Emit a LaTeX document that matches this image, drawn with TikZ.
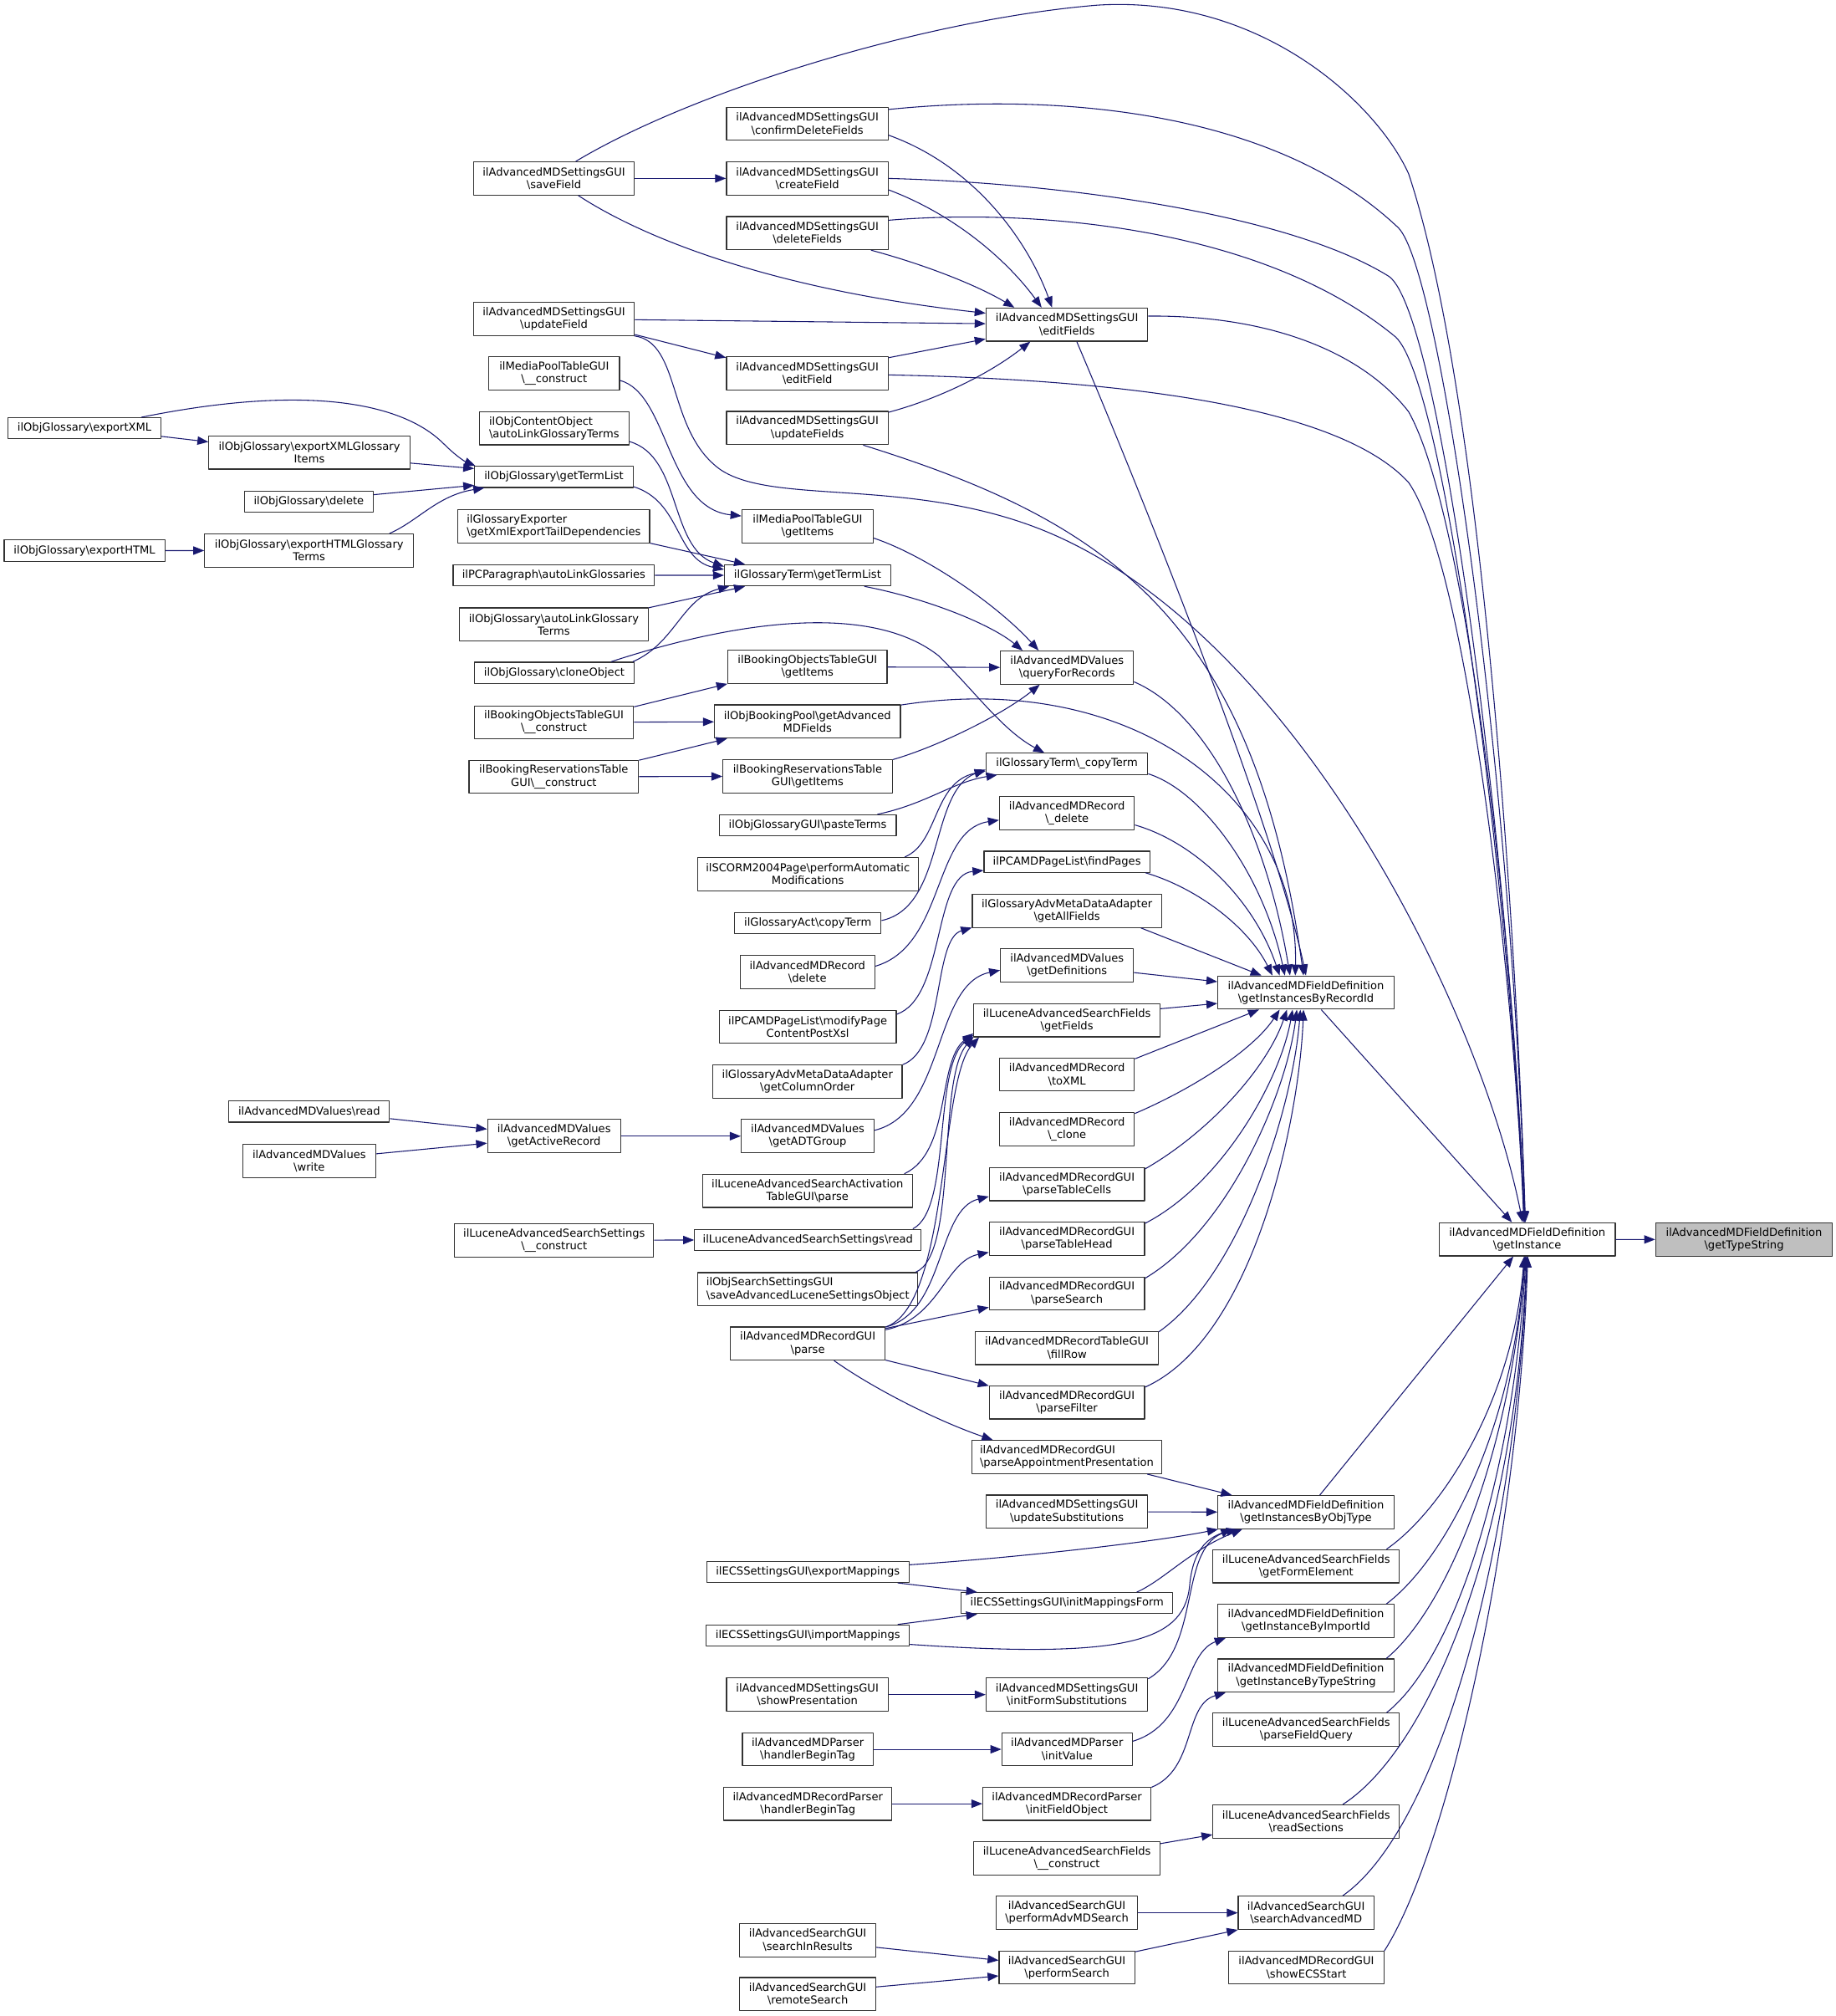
\documentclass[tikz,border=0pt]{standalone}
\usepackage{fontspec}
\setmainfont{DejaVu Sans}
\usetikzlibrary{arrows.meta}
\definecolor{edgeblue}{HTML}{191970}
\definecolor{boxline}{HTML}{333333}
\definecolor{rootfill}{HTML}{BFBFBF}
\newcommand{\bsl}{\textbackslash}
\begin{document}
\begin{tikzpicture}[x=1pt,y=-1pt,line join=round,
	fn/.style={draw=boxline,fill=white,line width=0.75pt,inner sep=0pt,minimum height=25.8pt,align=center,font=\fontsize{8.5}{9.9}\selectfont},
	fn1/.style={fn,minimum height=16.4pt},
	fnl/.style={fn,align=left},
	root/.style={fn,fill=rootfill},
	e/.style={draw=edgeblue,line width=0.7pt,-{Triangle[length=8.5pt,width=6.5pt]}}]
	\useasboundingbox (0,0) rectangle (1427,1567);
	% root and the two definition columns
	\node[root,minimum width=137.5pt] (T) at (1355.8,963.5) {ilAdvancedMDFieldDefinition\\\bsl getTypeString};
	\node[fn,minimum width=137pt] (GI) at (1187.2,963.3) {ilAdvancedMDFieldDefinition\\\bsl getInstance};
	\node[fn,minimum width=137pt] (RID) at (1015.2,771.5) {ilAdvancedMDFieldDefinition\\\bsl getInstancesByRecordId};
	\node[fn,minimum width=137pt] (OT) at (1015.2,1175.4) {ilAdvancedMDFieldDefinition\\\bsl getInstancesByObjType};
	\node[fn,minimum width=145pt] (GFE) at (1015.4,1217.4) {ilLuceneAdvancedSearchFields\\\bsl getFormElement};
	\node[fn,minimum width=137pt] (GIID) at (1015.2,1260) {ilAdvancedMDFieldDefinition\\\bsl getInstanceByImportId};
	\node[fn,minimum width=137pt] (GITS) at (1015.2,1302.4) {ilAdvancedMDFieldDefinition\\\bsl getInstanceByTypeString};
	\node[fn,minimum width=145pt] (PFQ) at (1015.4,1344.5) {ilLuceneAdvancedSearchFields\\\bsl parseFieldQuery};
	\node[fn,minimum width=145pt] (RS) at (1015.4,1415.8) {ilLuceneAdvancedSearchFields\\\bsl readSections};
	\node[fn,minimum width=105.5pt] (SAMD) at (1015.3,1486.8) {ilAdvancedSearchGUI\\\bsl searchAdvancedMD};
	\node[fn,minimum width=120.5pt] (ECS) at (1015.5,1529.3) {ilAdvancedMDRecordGUI\\\bsl showECSStart};
	% third column
	\node[fn,minimum width=125.7pt] (EF) at (829.4,252.3) {ilAdvancedMDSettingsGUI\\\bsl editFields};
	\node[fn,minimum width=103.4pt] (QR) at (829.5,518.9) {ilAdvancedMDValues\\\bsl queryForRecords};
	\node[fn1,minimum width=125.7pt] (CT) at (829.4,593.7) {ilGlossaryTerm\bsl\_copyTerm};
	\node[fn,minimum width=104.9pt] (RDEL) at (829.4,631.9) {ilAdvancedMDRecord\\\bsl\_delete};
	\node[fn1,minimum width=128.9pt] (FP) at (829.4,669.8) {ilPCAMDPageList\bsl findPages};
	\node[fn,minimum width=147.1pt] (GAF) at (829.4,708) {ilGlossaryAdvMetaDataAdapter\\\bsl getAllFields};
	\node[fn,minimum width=103.4pt] (GD) at (829.5,750.5) {ilAdvancedMDValues\\\bsl getDefinitions};
	\node[fn,minimum width=144.7pt] (GF) at (829.4,793) {ilLuceneAdvancedSearchFields\\\bsl getFields};
	\node[fn,minimum width=104.9pt] (TX) at (829.4,835.2) {ilAdvancedMDRecord\\\bsl toXML};
	\node[fn,minimum width=104.9pt] (CL) at (829.4,877.7) {ilAdvancedMDRecord\\\bsl\_clone};
	\node[fn,minimum width=120.7pt] (PTC) at (829.4,920.4) {ilAdvancedMDRecordGUI\\\bsl parseTableCells};
	\node[fn,minimum width=120.7pt] (PTH) at (829.4,962.7) {ilAdvancedMDRecordGUI\\\bsl parseTableHead};
	\node[fn,minimum width=120.7pt] (PS) at (829.4,1005.4) {ilAdvancedMDRecordGUI\\\bsl parseSearch};
	\node[fn,minimum width=142.1pt] (FR) at (829.4,1047.8) {ilAdvancedMDRecordTableGUI\\\bsl fillRow};
	\node[fn,minimum width=120.7pt] (PF) at (829.4,1090) {ilAdvancedMDRecordGUI\\\bsl parseFilter};
	\node[fnl,minimum width=147.8pt] (PAP) at (829.3,1132.5) {ilAdvancedMDRecordGUI\\\bsl parseAppointmentPresentation};
	\node[fn,minimum width=125.7pt] (US) at (829.4,1175) {ilAdvancedMDSettingsGUI\\\bsl updateSubstitutions};
	\node[fn1,minimum width=164.4pt] (IMF) at (829.5,1246.1) {ilECSSettingsGUI\bsl initMappingsForm};
	\node[fn,minimum width=125.7pt] (IFS) at (829.4,1317.2) {ilAdvancedMDSettingsGUI\\\bsl initFormSubstitutions};
	\node[fn,minimum width=101.4pt] (IV) at (829.5,1359.7) {ilAdvancedMDParser\\\bsl initValue};
	\node[fn,minimum width=130.7pt] (IFO) at (829.4,1402) {ilAdvancedMDRecordParser\\\bsl initFieldObject};
	\node[fn,minimum width=144.7pt] (LC) at (829.4,1444.5) {ilLuceneAdvancedSearchFields\\\bsl\_\_construct};
	\node[fn,minimum width=109.9pt] (PAS) at (829.4,1486.8) {ilAdvancedSearchGUI\\\bsl performAdvMDSearch};
	\node[fn,minimum width=105.5pt] (PSR) at (829.4,1529.3) {ilAdvancedSearchGUI\\\bsl performSearch};
	% second column
	\node[fn,minimum width=125.7pt] (CDF) at (627.6,96.2) {ilAdvancedMDSettingsGUI\\\bsl confirmDeleteFields};
	\node[fn,minimum width=125.7pt] (CF) at (627.6,138.7) {ilAdvancedMDSettingsGUI\\\bsl createField};
	\node[fn,minimum width=125.7pt] (DF) at (627.6,181.2) {ilAdvancedMDSettingsGUI\\\bsl deleteFields};
	\node[fn,minimum width=125.7pt] (EFd) at (627.6,290.3) {ilAdvancedMDSettingsGUI\\\bsl editField};
	\node[fn,minimum width=125.7pt] (UFs) at (627.6,332.7) {ilAdvancedMDSettingsGUI\\\bsl updateFields};
	\node[fn,minimum width=102.1pt] (MPI) at (627.8,409.2) {ilMediaPoolTableGUI\\\bsl getItems};
	\node[fn1,minimum width=129.2pt] (GTL) at (627.8,447.2) {ilGlossaryTerm\bsl getTermList};
	\node[fn,minimum width=123.8pt] (BOI) at (627.7,518.3) {ilBookingObjectsTableGUI\\\bsl getItems};
	\node[fn,minimum width=144.6pt] (BPF) at (627.7,560.8) {ilObjBookingPool\bsl getAdvanced\\MDFields};
	\node[fn,minimum width=131.7pt] (BRI) at (627.8,603.3) {ilBookingReservationsTable\\GUI\bsl getItems};
	\node[fn1,minimum width=137.7pt] (PT) at (627.9,641.5) {ilObjGlossaryGUI\bsl pasteTerms};
	\node[fn,minimum width=171.8pt] (SCO) at (628,679.4) {ilSCORM2004Page\bsl performAutomatic\\Modifications};
	\node[fn1,minimum width=113.8pt] (GAC) at (628,717.5) {ilGlossaryAct\bsl copyTerm};
	\node[fn,minimum width=104.9pt] (RD) at (627.7,755.6) {ilAdvancedMDRecord\\\bsl delete};
	\node[fn,minimum width=137.7pt] (MPX) at (627.9,798.1) {ilPCAMDPageList\bsl modifyPage\\ContentPostXsl};
	\node[fn,minimum width=147.2pt] (GCO) at (627.7,840.6) {ilGlossaryAdvMetaDataAdapter\\\bsl getColumnOrder};
	\node[fn,minimum width=103.3pt] (ADT) at (627.9,883.1) {ilAdvancedMDValues\\\bsl getADTGroup};
	\node[fn,minimum width=162.9pt] (LAT) at (627.7,925.6) {ilLuceneAdvancedSearchActivation\\TableGUI\bsl parse};
	\node[fn1,minimum width=176.1pt] (LSR) at (628,963.7) {ilLuceneAdvancedSearchSettings\bsl read};
	\node[fnl,minimum width=171.1pt] (OSS) at (628,1002.1) {ilObjSearchSettingsGUI\\\bsl saveAdvancedLuceneSettingsObject};
	\node[fn,minimum width=120.3pt] (PRS) at (627.9,1044.3) {ilAdvancedMDRecordGUI\\\bsl parse};
	\node[fn1,minimum width=157.2pt] (EXM) at (628,1221.8) {ilECSSettingsGUI\bsl exportMappings};
	\node[fn1,minimum width=157.8pt] (IMM) at (628,1271.2) {ilECSSettingsGUI\bsl importMappings};
	\node[fn,minimum width=125.7pt] (SP) at (627.6,1317.2) {ilAdvancedMDSettingsGUI\\\bsl showPresentation};
	\node[fn,minimum width=101.5pt] (PHB) at (627.9,1359.7) {ilAdvancedMDParser\\\bsl handlerBeginTag};
	\node[fn,minimum width=130.8pt] (RPH) at (628,1402) {ilAdvancedMDRecordParser\\\bsl handlerBeginTag};
	\node[fn,minimum width=105.9pt] (SIR) at (627.9,1508) {ilAdvancedSearchGUI\\\bsl searchInResults};
	\node[fn,minimum width=105.9pt] (RMS) at (627.9,1550) {ilAdvancedSearchGUI\\\bsl remoteSearch};
	% first column
	\node[fn,minimum width=125.1pt] (SF) at (430.6,138.7) {ilAdvancedMDSettingsGUI\\\bsl saveField};
	\node[fn,minimum width=125.1pt] (UF) at (430.6,247.8) {ilAdvancedMDSettingsGUI\\\bsl updateField};
	\node[fn,minimum width=101.5pt] (MPC) at (430.8,290.3) {ilMediaPoolTableGUI\\\bsl\_\_construct};
	\node[fnl,minimum width=116.5pt] (OCO) at (430.8,332.9) {ilObjContentObject\\\bsl autoLinkGlossaryTerms};
	\node[fn1,minimum width=123.2pt] (OGT) at (430.6,370.7) {ilObjGlossary\bsl getTermList};
	\node[fnl,minimum width=149pt] (GEX) at (430.5,409) {ilGlossaryExporter\\\bsl getXmlExportTailDependencies};
	\node[fn1,minimum width=156.4pt] (PCP) at (430.5,447.1) {ilPCParagraph\bsl autoLinkGlossaries};
	\node[fn,minimum width=147pt] (OGA) at (430.5,485.4) {ilObjGlossary\bsl autoLinkGlossary\\Terms};
	\node[fn1,minimum width=124.4pt] (OCL) at (430.9,522.9) {ilObjGlossary\bsl cloneObject};
	\node[fn,minimum width=123.8pt] (BOC) at (430.6,561.5) {ilBookingObjectsTableGUI\\\bsl\_\_construct};
	\node[fn,minimum width=131.8pt] (BRC) at (430.5,603.8) {ilBookingReservationsTable\\GUI\bsl\_\_construct};
	\node[fn,minimum width=103.4pt] (GAR) at (430.7,883.1) {ilAdvancedMDValues\\\bsl getActiveRecord};
	\node[fn,minimum width=154.6pt] (LSC) at (430.8,964) {ilLuceneAdvancedSearchSettings\\\bsl\_\_construct};
	% outer columns
	\node[fn,minimum width=156.3pt] (EXI) at (240.5,351.7) {ilObjGlossary\bsl exportXMLGlossary\\Items};
	\node[fn1,minimum width=100.2pt] (ODL) at (240.1,389.8) {ilObjGlossary\bsl delete};
	\node[fn,minimum width=162.3pt] (EHT) at (240.3,427.9) {ilObjGlossary\bsl exportHTMLGlossary\\Terms};
	\node[fn1,minimum width=124.8pt] (AVR) at (240.4,864) {ilAdvancedMDValues\bsl read};
	\node[fn,minimum width=103.4pt] (AVW) at (240.4,902.3) {ilAdvancedMDValues\\\bsl write};
	\node[fn1,minimum width=118.8pt] (EX) at (65.7,332.9) {ilObjGlossary\bsl exportXML};
	\node[fn1,minimum width=125pt] (EH) at (65.7,428) {ilObjGlossary\bsl exportHTML};
	% straight calls
	\foreach \a/\b in {GI/T,SF/CF,UF/EF,BOI/QR,RID/GI,OT/GI,US/OT,SP/IFS,PHB/IV,RPH/IFO,PAS/SAMD,GAR/ADT,LSC/LSR,BOC/BPF,BRC/BRI,PCP/GTL,EH/EHT}
	{
		\draw[e] (\a) -- (\b);
	}
	\foreach \a/\b in {GAF.-13/RID.159,GD.-6/RID.173,GF.7/RID.-173,TX.13/RID.-160,EFd.11/EF.-170,UF.-11/EFd.169,PRS.11/PS.-170,PRS.-12/PF.168,PAP.-12/OT.167,EXM.-7/IMF.173,IMM.7/IMF.-173,LC.9/RS.-172,PSR.13/SAMD.-166,SIR.-6/PSR.174,RMS.6/PSR.-173,AVR.-5/GAR.174,AVW.6/GAR.-174,BOC.11/BOI.-168,BRC.11/BPF.-168,GEX.-10/GTL.170,OGA.10/GTL.-170,EX.-6/EXI.174,EXI.-6/OGT.174,ODL.6/OGT.-174}
	{
		\draw[e] (\a) -- (\b);
	}
	% into getInstance from above
	\draw[e] (SF.38) .. controls (540,70) and (720,15) .. (853,4) .. controls (980,-4) and (1070,80) .. (1095,135) .. controls (1150,300) and (1178,700) .. (GI.96);
	\draw[e] (CDF.10) .. controls (820,72) and (990,85) .. (1087,177) .. controls (1120,210) and (1175,600) .. (GI.97);
	\draw[e] (CF.0) .. controls (820,142) and (1000,165) .. (1080,215) .. controls (1120,245) and (1172,650) .. (GI.98);
	\draw[e] (DF.9) .. controls (800,162) and (980,175) .. (1085,262) .. controls (1125,300) and (1174,700) .. (GI.99);
	\draw[e] (EF.6) .. controls (990,245) and (1060,275) .. (1095,320) .. controls (1140,400) and (1176,720) .. (GI.100);
	\draw[e] (EFd.-1) .. controls (870,295) and (1040,315) .. (1095,375) .. controls (1140,440) and (1177,760) .. (GI.101);
	\draw[e] (UF.-12) .. controls (530,266) and (518,335) .. (560,365) .. controls (600,392) and (700,372) .. (800,408) .. controls (1000,480) and (1150,780) .. (GI.105);
	% into getInstance from below
	\draw[e] (GFE.12) .. controls (1120,1175) and (1176,1090) .. (GI.-100);
	\draw[e] (GIID.12) .. controls (1120,1215) and (1175,1120) .. (GI.-98);
	\draw[e] (GITS.12) .. controls (1125,1250) and (1174,1130) .. (GI.-96);
	\draw[e] (PFQ.12) .. controls (1130,1290) and (1176,1150) .. (GI.-94);
	\draw[e] (RS.25) .. controls (1110,1360) and (1178,1200) .. (GI.-92);
	\draw[e] (SAMD.25) .. controls (1120,1420) and (1178,1200) .. (GI.-90);
	\draw[e] (ECS.12) .. controls (1125,1440) and (1180,1200) .. (GI.-88);
	% into getInstancesByRecordId
	\draw[e] (EF.-60) .. controls (890,390) and (990,640) .. (RID.90);
	\draw[e] (UFs.-17) .. controls (860,405) and (975,480) .. (RID.98);
	\draw[e] (BPF.10) .. controls (880,520) and (1010,620) .. (RID.122);
	\draw[e] (QR.-12) .. controls (940,555) and (985,650) .. (RID.133);
	\draw[e] (CT.-7) .. controls (935,615) and (982,680) .. (RID.141);
	\draw[e] (RDEL.-10) .. controls (930,655) and (975,700) .. (RID.147);
	\draw[e] (FP.-8) .. controls (930,690) and (970,720) .. (RID.153);
	\draw[e] (CL.13) .. controls (930,845) and (975,815) .. (RID.-147);
	\draw[e] (PTC.11) .. controls (940,880) and (985,830) .. (RID.-138);
	\draw[e] (PTH.11) .. controls (950,920) and (995,840) .. (RID.-128);
	\draw[e] (PS.11) .. controls (955,955) and (1000,850) .. (RID.-118);
	\draw[e] (FR.10) .. controls (965,990) and (1005,860) .. (RID.-108);
	\draw[e] (PF.11) .. controls (975,1040) and (1010,870) .. (RID.-98);
	% into editFields
	\draw[e] (CDF.-8) .. controls (760,130) and (800,190) .. (EF.131);
	\draw[e] (CF.-8) .. controls (745,168) and (785,205) .. (EF.146);
	\draw[e] (DF.-15) .. controls (720,206) and (760,222) .. (EF.162);
	\draw[e] (SF.-35) .. controls (500,185) and (600,225) .. (EF.172);
	\draw[e] (UFs.11) .. controls (730,310) and (770,290) .. (EF.-155);
	% second column callees
	\draw[e] (MPC.-6) .. controls (520,306) and (518,395) .. (MPI.171);
	\draw[e] (MPI.-10) .. controls (720,432) and (775,470) .. (QR.149);
	\draw[e] (GTL.-11) .. controls (720,465) and (770,485) .. (QR.159);
	\draw[e] (BRI.11) .. controls (730,580) and (780,555) .. (QR.-148);
	\draw[e] (OCL.11) .. controls (580,480) and (680,470) .. (730,510) .. controls (760,540) and (780,568) .. (CT.154);
	\draw[e] (PT.9) .. controls (720,625) and (740,608) .. (CT.-171);
	\draw[e] (SCO.10) .. controls (730,655) and (725,608) .. (CT.-175);
	\draw[e] (GAC.2) .. controls (735,705) and (722,615) .. (CT.-176);
	\draw[e] (RD.5) .. controls (735,735) and (725,645) .. (RDEL.-174);
	\draw[e] (MPX.8) .. controls (735,775) and (725,680) .. (FP.-174);
	\draw[e] (GCO.10) .. controls (735,815) and (725,730) .. (GAF.-170);
	\draw[e] (ADT.5) .. controls (735,865) and (725,765) .. (GD.-176);
	\draw[e] (LAT.10) .. controls (740,895) and (728,825) .. (GF.-172);
	\draw[e] (LSR.6) .. controls (740,940) and (725,830) .. (GF.-171);
	\draw[e] (OSS.9) .. controls (745,975) and (728,840) .. (GF.-170);
	\draw[e] (PRS.12) .. controls (738,1015) and (730,840) .. (GF.-169);
	\draw[e] (PRS.12) .. controls (735,1020) and (728,940) .. (PTC.-171);
	\draw[e] (PRS.10) .. controls (730,1025) and (735,980) .. (PTH.-170);
	\draw[e] (PRS.-33) .. controls (680,1080) and (730,1105) .. (PAP.167);
	% into getInstancesByObjType and the import calls
	\draw[e] (EXM.4) .. controls (800,1210) and (900,1198) .. (OT.-169);
	\draw[e] (IMF.9) .. controls (905,1228) and (925,1205) .. (OT.-165);
	\draw[e] (IMM.-5) .. controls (880,1290) and (922,1275) .. (925,1230) .. controls (928,1205) and (938,1196) .. (OT.-167);
	\draw[e] (IFS.11) .. controls (935,1280) and (915,1200) .. (OT.-166);
	\draw[e] (IV.7) .. controls (925,1340) and (920,1285) .. (GIID.-168);
	\draw[e] (IFO.11) .. controls (930,1375) and (920,1325) .. (GITS.-168);
	% into the glossary term lists
	\draw[e] (OCO.-10) .. controls (530,355) and (520,425) .. (GTL.174);
	\draw[e] (OGT.-7) .. controls (530,390) and (525,435) .. (GTL.176);
	\draw[e] (OCL.8) .. controls (525,500) and (530,465) .. (GTL.-172);
	\draw[e] (EX.11) .. controls (230,300) and (310,310) .. (345,345) .. controls (355,355) and (362,359) .. (OGT.172);
	\draw[e] (EHT.12) .. controls (325,405) and (340,385) .. (OGT.-171);
\end{tikzpicture}
\end{document}
